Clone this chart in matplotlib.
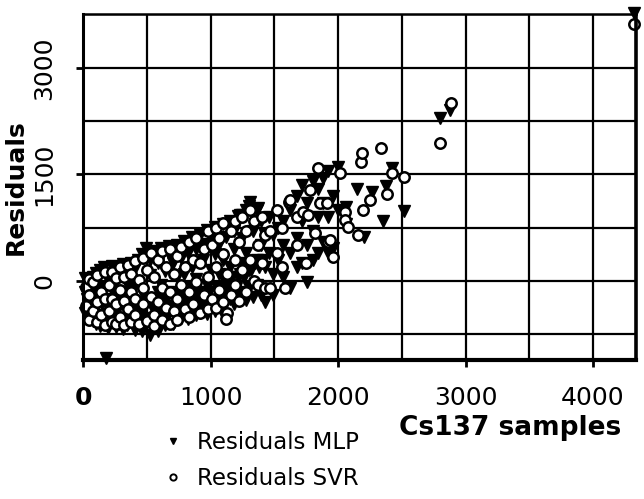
import matplotlib
matplotlib.use("Agg")
import matplotlib.pyplot as plt
from matplotlib.lines import Line2D
from matplotlib.ticker import MultipleLocator

plt.rcParams["font.family"] = ["DejaVu Sans"]

# Residuos MLP (triángulos)
mlp_x = [15, 15, 15, 45, 45, 45, 75, 75, 75, 105, 105, 105, 135, 135, 135,
         165, 165, 165, 195, 195, 195, 225, 225, 225, 255, 255, 255,
         285, 285, 285, 315, 315, 315, 345, 345, 345, 375, 375, 375,
         405, 405, 405, 435, 435, 435, 465, 465, 465, 495, 495, 495,
         525, 525, 525, 555, 555, 555, 585, 585, 585, 615, 615, 615,
         645, 645, 645, 675, 675, 675, 705, 705, 705, 735, 735, 735,
         765, 765, 765, 795, 795, 795, 825, 825, 825, 855, 855, 855,
         885, 885, 885, 915, 915, 915, 945, 945, 945, 975, 975, 975,
         1005, 1005, 1005, 1035, 1035, 1035, 1065, 1065, 1065,
         1095, 1095, 1095, 1125, 1125, 1125, 1155, 1155, 1155,
         1185, 1185, 1185, 1215, 1215, 1215, 1245, 1245, 1245,
         1275, 1275, 1275, 1305, 1305, 1305, 1335, 1335, 1335,
         1365, 1365, 1365, 1395, 1395, 1395, 1425, 1425, 1425,
         1455, 1455, 1490, 1490, 1490, 1530, 1530, 1570, 1570, 1570,
         1620, 1620, 1620, 1680, 1680, 1680, 1720, 1720, 1720,
         1760, 1760, 1760, 1800, 1800, 1800, 1840, 1840, 1840,
         1880, 1880, 1880, 1920, 1920, 1920, 1960, 1960, 2000, 2000,
         2060, 2060, 2150, 2200, 2270, 2350, 2380, 2420, 2520,
         2800, 2880, 4320, 180, 1312, 1375, 1234,
         30, 60, 90, 120, 150, 210, 240, 270, 330, 360, 390, 420, 450,
         480, 510, 540, 570, 600, 630, 660, 690, 720, 750, 780, 810,
         840, 870, 900, 930, 960, 990, 1020, 1050, 1080, 1110, 1140,
         1170, 1200, 1230, 1260, 1290, 1320, 1350, 1380, 1410]
mlp_y = [-450, -150, 40, -300, -40, -520, -560, -220, 60, -380, 110, -600,
         -640, -80, 150, -250, -500, 190, -660, 20, -350, -120, 210, -560,
         -450, -650, 160, -280, 60, -600, -680, -180, 240, 120, -430, -620,
         -300, 260, -520, -40, -690, 180, -380, 300, -600, -150, 380, -700,
         -520, 470, -250, -760, 80, 300, -420, 420, -650, -150, 250, -700,
         -560, 460, -50, -300, 140, -620, 380, -450, 490, -160, -600, 260,
         500, -380, 60, -520, 330, -200, 560, 100, -450, -300, 400, -540,
         620, -100, 200, -480, 450, 30, 650, -250, -450, 300, -420, 520,
         720, -60, -470, 150, 600, -350, -420, 760, 380, -200, 520, 100,
         800, -460, 300, 620, -100, -300, 850, 200, -250, 450, -330, 700,
         910, 50, -150, 930, 600, 250, -270, 1000, 400, 1050, 150, -100,
         700, -230, 980, 300, 1000, -50, 850, 500, -200, -300, 200, 650,
         900, 400, 100, -200, 650, 750, 300, 50, 500, 850,
         -100, 400, 1000, 200, 600, 1200, 250, 850, 1350,
         -20, 1100, 500, 1400, 700, 300, 400, 1300, 900,
         550, 1450, 1100, 1550, 900, 400, 460, 1200, 1600, 1000,
         1040, 800, 1300, 615, 1250, 840, 1330, 1585, 980,
         2300, 2400, 3770, -1080, 1108, 1023, 925,
         -250, -380, -120, -480, -330, -420, -250, -520, -380, -100,
         -450, -300, -480, -380, -550, -300, -580, -450, -250, -480,
         -350, -420, -200, -300, -380, -200, -300, -150, -350, -280,
         -150, -300, -100, -250, 0, -150, 50, -100, 100, 50, 150, 150,
         250, 200, 300]

# Residuos SVR (círculos)
svr_x = [20, 20, 50, 50, 50, 80, 80, 110, 110, 110, 140, 140,
         170, 170, 170, 200, 200, 230, 230, 230, 260, 260, 260,
         290, 290, 290, 320, 320, 320, 350, 350, 380, 380, 380,
         410, 410, 410, 440, 440, 470, 470, 470, 500, 500, 530, 530,
         560, 560, 560, 590, 590, 620, 620, 620, 650, 650,
         680, 680, 680, 710, 710, 740, 740, 740, 770, 770, 800, 800,
         830, 830, 830, 860, 860, 890, 890, 920, 920, 950, 950,
         980, 980, 980, 1010, 1010, 1040, 1040, 1040, 1070, 1070,
         1100, 1100, 1100, 1130, 1130, 1160, 1160, 1190, 1190, 1190,
         1220, 1220, 1250, 1250, 1280, 1280, 1310, 1310, 1340, 1340,
         1370, 1370, 1400, 1400, 1430, 1430, 1469, 1586, 1125, 1470,
         1520, 1520, 1560, 1560, 1617, 1625, 1680, 1680, 1727, 1750,
         1766, 1781, 1820, 1844, 1859, 1914, 1922, 1937, 1961, 2016,
         2055, 2055, 2078, 2156, 2180, 2187, 2195, 2250, 2336, 2383,
         2422, 2516, 2797, 2883, 4320]
svr_y = [-350, -80, -550, -200, 30, -420, -10, -300, -580, 90, -150, -480,
         -620, -250, 130, -60, -420, -580, 120, -250, -330, -600, 40,
         -120, -500, 200, -620, -280, 60, -400, 230, -150, -580, 100,
         -480, 280, -250, 20, -600, -330, 330, -100, -560, 150, -220, 400,
         -480, 50, -640, 300, -300, -100, -550, 420, 200, -380,
         -600, 450, -150, 100, -420, 350, -250, -550, -50, 480, -400, 200,
         550, -150, -500, 300, -330, -20, 600, -450, 250, 450, -200,
         700, 50, -400, -250, 500, 200, 750, -380, 600, -120,
         -300, 380, 820, 100, -450, 700, -200, 300, 850, -50,
         -280, 550, 150, 900, 700, -150, 300, 1000, 850, 0,
         -50, 500, 250, 900, 650, -100, -98, -98, -533, 700,
         400, 1000, 200, 750, 1108, 1136, 500, 900, 967, 252,
         925, 1275, 673, 1585, 1094, 1094, 547, 575, 336, 1515,
         970, 855, 757, 645, 1680, 1795, 995, 1135, 1865, 1220,
         1515, 1470, 1935, 2510, 3620]

x_ticks = [0, 1000, 2000, 3000, 4000]
y_ticks = [0, 1500, 3000]

fig = plt.figure(figsize=(6.44, 4.99), dpi=100)
ax = fig.add_axes([83 / 644, 1 - 360 / 499, 553 / 644, 346 / 499])

ax.plot(mlp_x, mlp_y, linestyle="none", marker="v", markersize=9,
        color="black", clip_on=False)
ax.plot(svr_x, svr_y, linestyle="none", marker="o", markersize=7.5,
        markerfacecolor="white", markeredgecolor="black", markeredgewidth=1.8,
        clip_on=False)

ax.set_xlim(0, 4337)
ax.set_ylim(-1112, 3757)

ax.set_xticks(x_ticks)
ax.set_yticks(y_ticks)
ax.xaxis.set_minor_locator(MultipleLocator(500))
ax.yaxis.set_minor_locator(MultipleLocator(750))
ax.grid(which="both", color="black", linewidth=1.6)
ax.tick_params(which="minor", length=0)
ax.tick_params(which="major", length=5, width=2, color="black")
ax.tick_params(axis="x", labelsize=18, pad=14)
ax.tick_params(axis="y", labelsize=18, pad=14)
ax.set_axisbelow(True)
plt.setp(ax.get_yticklabels(), rotation=90, va="center")
ax.get_xticklabels()[0].set_fontweight("bold")

for side, lw in (("left", 2.2), ("bottom", 3.0), ("right", 2.6), ("top", 1.8)):
    ax.spines[side].set_linewidth(lw)
    ax.spines[side].set_color("black")

ax.set_ylabel("Residuals", fontsize=18, fontweight="bold")
ax.yaxis.set_label_coords(-55 / 553, 0.5)
fig.text(510 / 644, 1 - 428 / 499, "Cs137 samples", fontsize=19,
         fontweight="bold", ha="center", va="center")

handles = [
    Line2D([], [], linestyle="none", marker="v", markersize=5, color="black"),
    Line2D([], [], linestyle="none", marker="o", markersize=4.5,
           markerfacecolor="white", markeredgecolor="black", markeredgewidth=1.4),
]
fig.legend(handles, ["Residuals MLP", "Residuals SVR"], loc="upper left",
           bbox_to_anchor=(150 / 644, 1 - 420 / 499), frameon=False,
           fontsize=16.5, handlelength=1.0, handletextpad=0.55, labelspacing=0.55,
           borderpad=0)

fig.savefig("out.png", dpi=100)
